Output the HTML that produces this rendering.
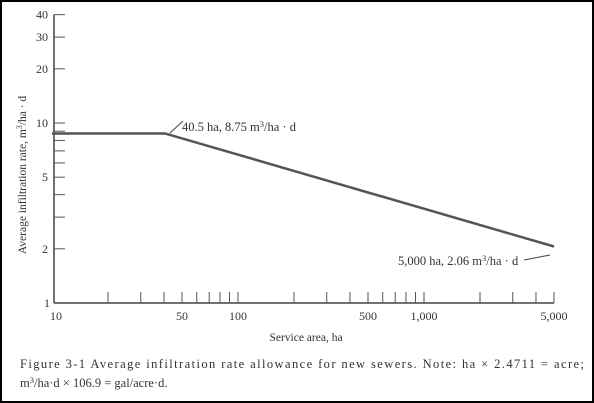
<!DOCTYPE html>
<html><head><meta charset="utf-8"><style>
body{margin:0;background:#fff}
svg{display:block;font-family:"Liberation Serif",serif;fill:#333}
</style></head><body>
<svg width="594" height="403" viewBox="0 0 594 403">
<rect x="1" y="1" width="592" height="401" fill="#fff" stroke="#000" stroke-width="2"/>
<g id="axes"></g>
<g id="series"></g>
<text x="182" y="131" font-size="12.5">40.5 ha, 8.75 m<tspan font-size="8.5" dy="-4">3</tspan><tspan dy="4">/ha · d</tspan></text>
<line x1="170" y1="133" x2="183" y2="121" stroke="#444" stroke-width="1"/>
<text x="398" y="265" font-size="12.5">5,000 ha, 2.06 m<tspan font-size="8.5" dy="-4">3</tspan><tspan dy="4">/ha · d</tspan></text>
<line x1="524" y1="260" x2="550" y2="255" stroke="#444" stroke-width="1"/>
<text x="306" y="341" font-size="11.5" text-anchor="middle">Service area, ha</text>
<text transform="translate(26,175) rotate(-90)" font-size="11.5" text-anchor="middle">Average infiltration rate, m<tspan font-size="8" dy="-4">3</tspan><tspan dy="4">/ha · d</tspan></text>
<text x="20" y="368" font-size="12.5" textLength="564" lengthAdjust="spacing">Figure 3-1 Average infiltration rate allowance for new sewers. Note: ha × 2.4711 = acre;</text>
<text x="20" y="387" font-size="12.5">m<tspan font-size="8.5" dy="-4">3</tspan><tspan dy="4">/ha·d × 106.9 = gal/acre·d.</tspan></text>
</svg>
<script>
const xTicks=[20,30,40,50,60,70,80,90,100,200,300,400,500,600,700,800,900,1000,2000,3000,4000,5000];
const xLabels=[10,50,100,500,1000,5000];
const xLabelText=["10","50","100","500","1,000","5,000"];
const yTicks=[2,3,4,5,6,7,8,9,10,20,30,40];
const yLabels=[1,2,5,10,20,30,40];
const seriesX=[10,40.5,5000];
const seriesY=[8.75,8.75,2.06];
const NS="http://www.w3.org/2000/svg";
const X=v=>52+186*Math.log10(v/10);
const Y=v=>303-180*Math.log10(v);
function mk(t,a,p){const e=document.createElementNS(NS,t);for(const k in a)e.setAttribute(k,a[k]);p.appendChild(e);return e;}
const ax=document.getElementById('axes');
let l=mk('line',{x1:54,y1:303,x2:X(5000),y2:303,stroke:'#444','stroke-width':1.5},ax);


l=mk('line',{x1:54,y1:303,x2:54,y2:Y(40),stroke:'#444','stroke-width':1.5},ax);


xTicks.forEach(v=>{const t=mk('line',{x1:X(v),y1:303,x2:X(v),y2:292,stroke:'#555','stroke-width':1},ax);

});
xLabels.forEach((v,i)=>{const t=mk('text',{x:X(v)+(i==0?4:0),y:320,'font-size':12,'text-anchor':'middle'},ax);t.textContent=xLabelText[i];

});
yTicks.forEach(v=>{const t=mk('line',{x1:54,y1:Y(v),x2:65,y2:Y(v),stroke:'#555','stroke-width':1},ax);

});
yLabels.forEach(v=>{const t=mk('text',{x:v==1?50:48,y:Y(v)+4,'font-size':12,'text-anchor':'end'},ax);t.textContent=String(v);

});
const s=document.getElementById('series');
const p=mk('polyline',{points:seriesX.map((x,i)=>X(x)+','+Y(seriesY[i])).join(' '),fill:'none',stroke:'#555','stroke-width':2.5},s);


</script>
</body></html>
